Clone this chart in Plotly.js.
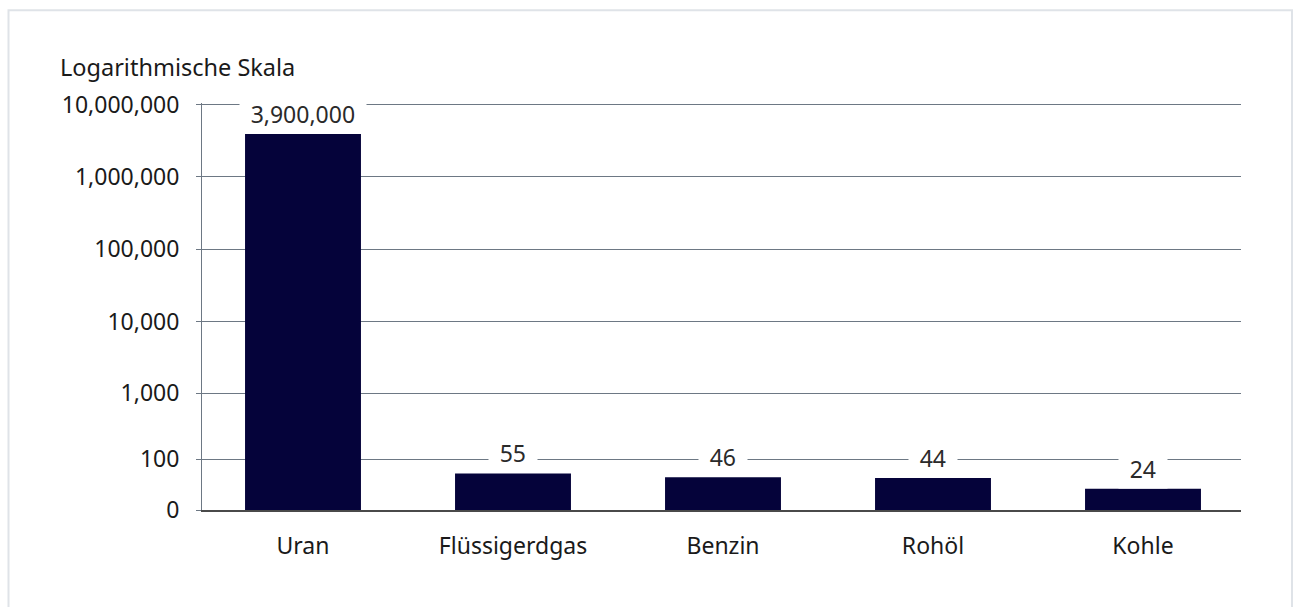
<!DOCTYPE html>
<html>
<head>
<meta charset="utf-8">
<script src="https://cdn.plot.ly/plotly-3.0.1.min.js"></script>
<style>html,body{margin:0;padding:0;background:#fff;}#chart{width:1293px;height:607px;}</style>
</head>
<body>
<div id="chart"></div>
<script>
// Data
const categories = ["Uran", "Flüssigerdgas", "Benzin", "Rohöl", "Kohle"];
const values = [3900000, 55, 46, 44, 24];
const valueLabels = ["3,900,000", "55", "46", "44", "24"];
const tickValues = [0, 100, 1000, 10000, 100000, 1000000, 10000000];
const tickLabels = ["0", "100", "1,000", "10,000", "100,000", "1,000,000", "10,000,000"];
const axisTitle = "Logarithmische Skala";

// Scale setting: log axis of (value + offset) so that 0 sits at the bottom
const offset = 25;

const FONT = "Noto Sans, sans-serif";
const barColor = "#05033a";
const gridColor = "#6d7884";

const trace = {
  type: "bar",
  x: categories,
  y: values,
  base: offset,
  marker: {color: barColor, line: {width: 0}},
  hoverinfo: "skip"
};

const annotations = categories.map((c, i) => ({
  x: c,
  y: Math.log10(values[i] + offset),
  xref: "x",
  yref: "y",
  text: "\u2009\u2009" + valueLabels[i] + "\u2009\u2009",
  showarrow: false,
  yanchor: "middle",
  yshift: 20,
  bgcolor: "#ffffff",
  borderpad: 3,
  font: {family: FONT, size: 23, color: "#2a2a2a"}
}));

// plot area in pixels; top extended slightly so the top gridline is drawn
const eps = 0.02;
const plotLeft = 202, plotRight = 1241, plotBottom = 510.5;
const logMin = Math.log10(offset);
const logTop = Math.log10(tickValues[tickValues.length - 1] + offset);
const pxPerDecade = (plotBottom - 104) / (logTop - logMin);
const plotTop = 104 - eps * pxPerDecade;
const pw = plotRight - plotLeft, ph = plotBottom - plotTop;

// category positions: spacing 210 px, first centre at x=303
const catSpacing = 210;
const xStart = -(303 - plotLeft) / catSpacing;
const xEnd = xStart + pw / catSpacing;

const layout = {
  width: 1293,
  height: 607,
  margin: {l: plotLeft, r: 1293 - plotRight, t: plotTop, b: 607 - plotBottom, pad: 0},
  paper_bgcolor: "#ffffff",
  plot_bgcolor: "#ffffff",
  showlegend: false,
  bargap: 0.448,
  title: {
    text: axisTitle,
    xref: "container", yref: "container",
    x: 60 / 1293, xanchor: "left",
    y: 1 - 68 / 607, yanchor: "middle",
    font: {family: FONT, size: 23.5, color: "#1a1a1a"}
  },
  font: {family: FONT, size: 23, color: "#1a1a1a"},
  xaxis: {
    type: "category",
    range: [xStart, xEnd],
    showgrid: false,
    showline: true,
    linecolor: "#4a4a4a",
    linewidth: 1.5,
    ticks: "",
    ticklabelstandoff: 15,
    tickfont: {family: FONT, size: 23, color: "#1a1a1a"},
    zeroline: false
  },
  yaxis: {
    type: "log",
    range: [logMin, logTop + eps],
    tickmode: "array",
    tickvals: tickValues.map(v => v + offset),
    ticktext: tickLabels,
    showgrid: true,
    gridcolor: gridColor,
    gridwidth: 1,
    showline: true,
    linecolor: gridColor,
    linewidth: 1,
    ticks: "outside",
    ticklen: 5,
    tickcolor: gridColor,
    ticklabelstandoff: 12,
    tickfont: {family: FONT, size: 23, color: "#1a1a1a"},
    zeroline: false
  },
  annotations: annotations,
  shapes: [
    {
      type: "rect",
      xref: "paper", yref: "paper",
      x0: (8.5 - plotLeft) / pw, x1: (1292 - plotLeft) / pw,
      y0: (plotBottom - 640) / ph, y1: (plotBottom - 9.5) / ph,
      line: {color: "#dfe3e8", width: 2},
      fillcolor: "rgba(0,0,0,0)",
      layer: "below"
    }
  ]
};

Plotly.newPlot("chart", [trace], layout, {displayModeBar: false, staticPlot: true});
</script>
</body>
</html>
